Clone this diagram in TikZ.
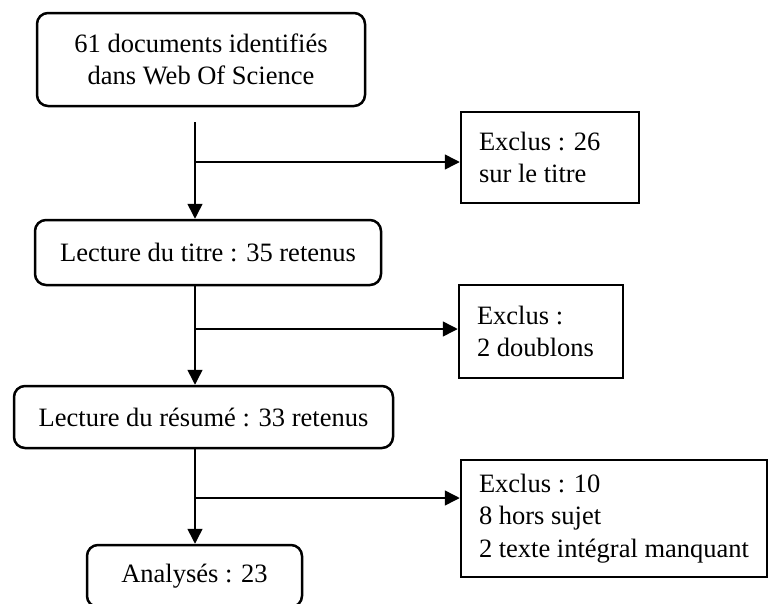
\documentclass[tikz,border=0pt]{standalone}
\usepackage{fontspec}
\setmainfont{Liberation Serif}
\usetikzlibrary{arrows.meta}
\begin{document}
\begin{tikzpicture}[x=1pt,y=-1pt,
  mainbox/.style={draw=black,line width=2.5pt,rounded corners=11pt,align=center,inner sep=0pt},
  exclbox/.style={draw=black,line width=2.5pt,align=flush left,inner xsep=18pt,inner ysep=0pt,anchor=center},
  arr/.style={line width=1.5pt,-{Triangle[length=15pt,width=15pt]}},
  every node/.style={font=\fontsize{26.5}{32.5}\selectfont}]
\useasboundingbox (0,0) rectangle (769,603);
\clip (0,0) rectangle (769,603);
\node[mainbox,minimum width=328pt,minimum height=93pt] (box1) at (201,59.5) {61 documents identifiés\\dans Web Of Science};
\node[mainbox,minimum width=346pt,minimum height=65pt] (box2) at (208,252.5) {Lecture du titre : 35 retenus};
\node[mainbox,minimum width=379pt,minimum height=62pt] (box3) at (203.5,417) {Lecture du résumé : 33 retenus};
\node[mainbox,minimum width=215pt,minimum height=62pt] (box4) at (194.5,576) {Analysés : 23};
\node[exclbox,text width=142pt,minimum height=91pt] (excl1) at (550,157.5) {Exclus : 26\\sur le titre};
\node[exclbox,text width=128pt,minimum height=93pt] (excl2) at (541,331.5) {Exclus :\\2 doublons};
\node[exclbox,text width=270pt,minimum height=117pt] (excl3) at (614,518.5) {Exclus : 10\\8 hors sujet\\2 texte intégral manquant};
\coordinate (s1) at (195,122);
\coordinate (b1) at (195,162);
\coordinate (b2) at (195,329);
\coordinate (b3) at (195,498);
\draw[arr] (s1) -- (s1 |- box2.north);
\draw[arr] (b1) -- (b1 -| excl1.west);
\draw[arr] (box2.south -| s1) -- (s1 |- box3.north);
\draw[arr] (b2) -- (b2 -| excl2.west);
\draw[arr] (box3.south -| s1) -- (s1 |- box4.north);
\draw[arr] (b3) -- (b3 -| excl3.west);
\end{tikzpicture}
\end{document}
